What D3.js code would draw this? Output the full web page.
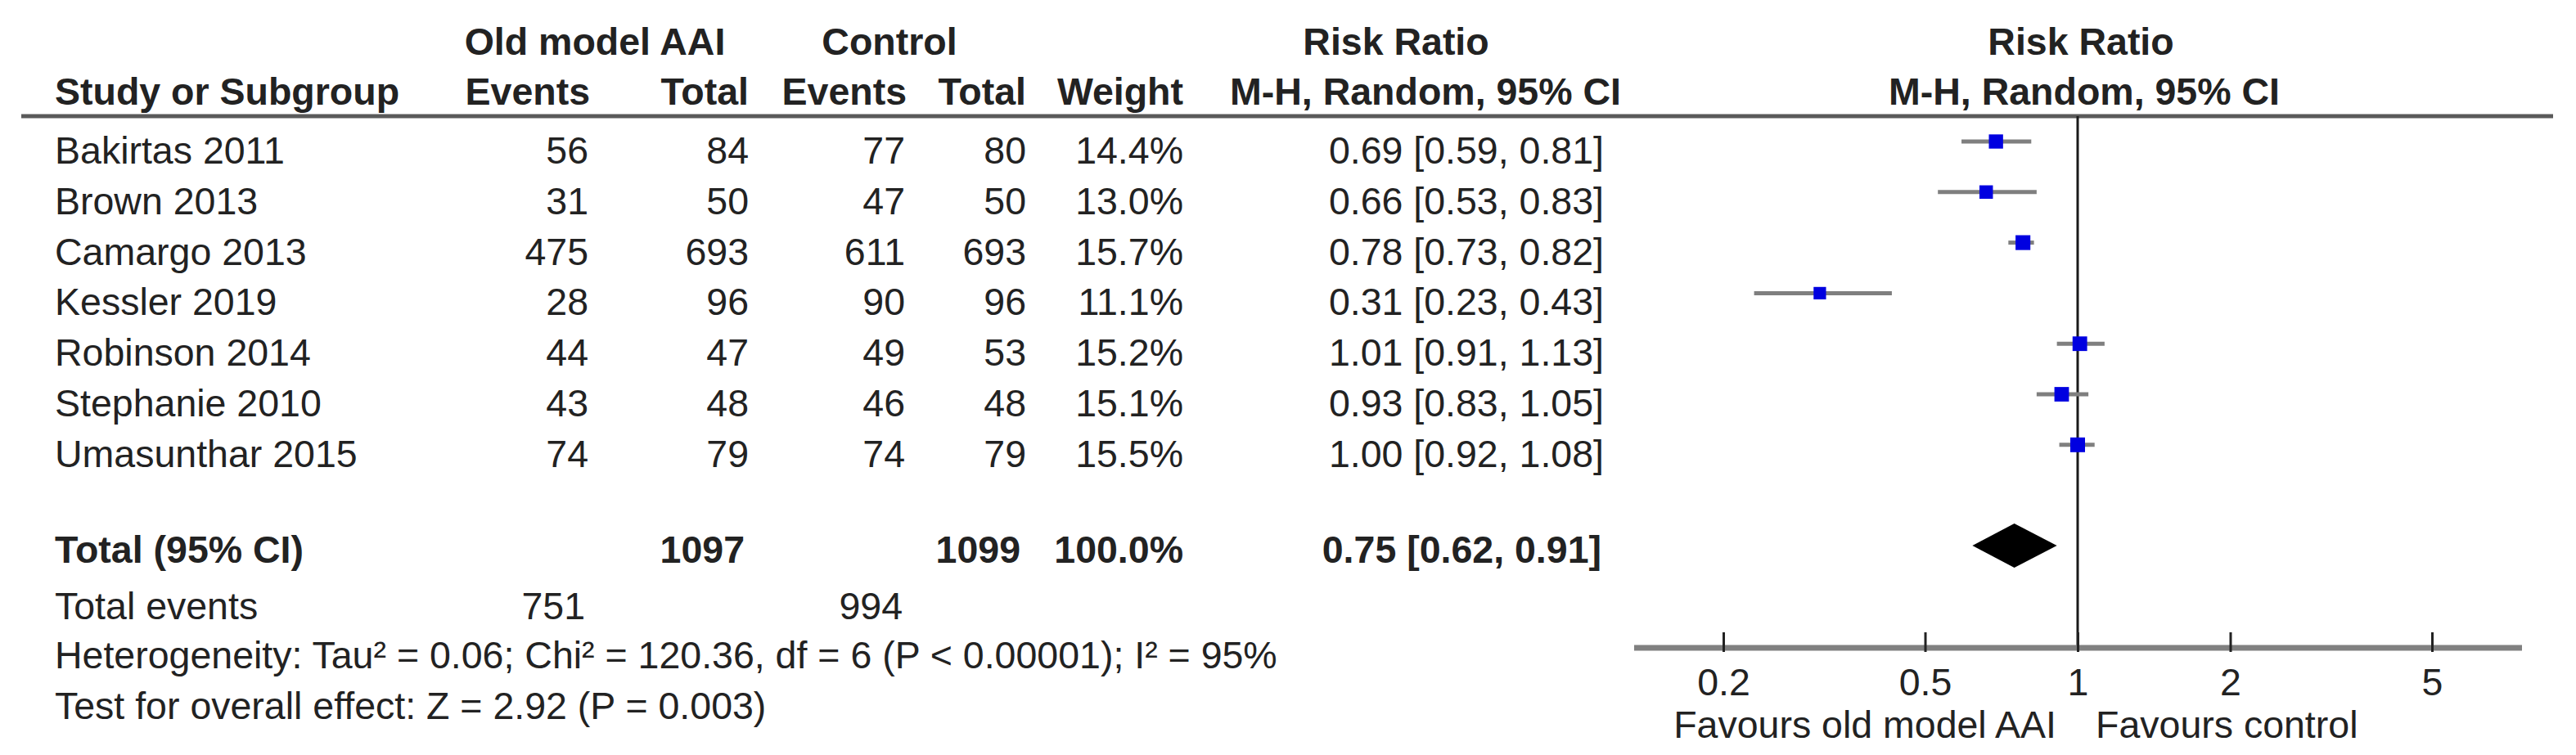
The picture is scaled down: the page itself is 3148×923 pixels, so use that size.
<!DOCTYPE html>
<html>
<head>
<meta charset="utf-8">
<script src="https://cdn.jsdelivr.net/npm/d3@7"></script>
<style>
  body { margin: 0; background: #fff; }
  svg text { font-family: 'Liberation Sans', Arial, sans-serif; fill: #222; }
  .bold { font-weight: bold; }
</style>
</head>
<body>
<svg id="chart" width="3148" height="923"></svg>
<script>
// study rows
const studies = ['Bakirtas 2011', 'Brown 2013', 'Camargo 2013', 'Kessler 2019',
  'Robinson 2014', 'Stephanie 2010', 'Umasunthar 2015'];
const expEvents = [56, 31, 475, 28, 44, 43, 74];
const expTotal = [84, 50, 693, 96, 47, 48, 79];
const ctrlEvents = [77, 47, 611, 90, 49, 46, 74];
const ctrlTotal = [80, 50, 693, 96, 53, 48, 79];
const weights = [14.4, 13.0, 15.7, 11.1, 15.2, 15.1, 15.5];
const riskRatio = [0.69, 0.66, 0.78, 0.31, 1.01, 0.93, 1.00];
const ciLow = [0.59, 0.53, 0.73, 0.23, 0.91, 0.83, 0.92];
const ciHigh = [0.81, 0.83, 0.82, 0.43, 1.13, 1.05, 1.08];

// pooled estimate
const pooledRR = 0.75;
const pooledLow = 0.62;
const pooledHigh = 0.91;

const axisTicks = [0.2, 0.5, 1, 2, 5];
const heterogeneityText = 'Heterogeneity: Tau\u00b2 = 0.06; Chi\u00b2 = 120.36, df = 6 (P < 0.00001); I\u00b2 = 95%';
const overallText = 'Test for overall effect: Z = 2.92 (P = 0.003)';
const favoursLeft = 'Favours old model AAI';
const favoursRight = 'Favours control';

const fmt2 = d3.format('.2f');
const ciLabel = (rr, lo, hi) => `${fmt2(rr)} [${fmt2(lo)}, ${fmt2(hi)}]`;

/**
 * Draws a RevMan style forest plot into an svg.
 */
class ForestPlot {
  constructor(svg) {
    this.svg = svg;
    this.fontSize = 46.5;

    // column anchors (text right edges)
    this.col = {
      study: 67,
      expEvents: 719,
      expTotal: 915,
      ctrlEvents: 1106,
      ctrlTotal: 1254,
      weight: 1446,
      ci: 1960
    };

    this.x = d3.scaleLog().domain([0.2, 5]).range([2106, 2972]);
    this.y = d3.scaleLinear().domain([0, studies.length - 1])
      .range([173, 173 + 6 * 61.8]);
    this.boxSize = d3.scaleSqrt().domain([0, 15.5]).range([0, 18]);

    this.headerLineY = 142;
    this.axisY = 792;
    this.totalY = 667;
  }

  text(x, y, str, anchor, bold) {
    return this.svg.append('text')
      .attr('x', x).attr('y', y)
      .attr('text-anchor', anchor || 'start')
      .attr('class', bold ? 'bold' : null)
      .style('font-size', this.fontSize + 'px')
      .text(str);
  }

  drawHeader() {
    const c = this.col;
    this.text(727, 67, 'Old model AAI', 'middle', true);
    this.text(1087, 67, 'Control', 'middle', true);
    this.text(1706, 67, 'Risk Ratio', 'middle', true);
    this.text(2543, 67, 'Risk Ratio', 'middle', true);

    this.text(c.study, 128, 'Study or Subgroup', 'start', true);
    this.text(c.expEvents + 2, 128, 'Events', 'end', true);
    this.text(c.expTotal, 128, 'Total', 'end', true);
    this.text(c.ctrlEvents + 2, 128, 'Events', 'end', true);
    this.text(c.ctrlTotal, 128, 'Total', 'end', true);
    this.text(c.weight, 128, 'Weight', 'end', true);
    this.text(1981, 128, 'M-H, Random, 95% CI', 'end', true);
    this.text(2547, 128, 'M-H, Random, 95% CI', 'middle', true);

    this.svg.append('line')
      .attr('x1', 26).attr('x2', 3120)
      .attr('y1', this.headerLineY).attr('y2', this.headerLineY)
      .attr('stroke', '#5a5a5a').attr('stroke-width', 5);
  }

  drawRows() {
    const c = this.col;
    studies.forEach((name, i) => {
      const yb = this.y(i) + 27;
      this.text(c.study, yb, name);
      this.text(c.expEvents, yb, expEvents[i], 'end');
      this.text(c.expTotal, yb, expTotal[i], 'end');
      this.text(c.ctrlEvents, yb, ctrlEvents[i], 'end');
      this.text(c.ctrlTotal, yb, ctrlTotal[i], 'end');
      this.text(c.weight, yb, d3.format('.1f')(weights[i]) + '%', 'end');
      this.text(c.ci, yb, ciLabel(riskRatio[i], ciLow[i], ciHigh[i]), 'end');
    });

    const yt = this.totalY + 21;
    this.text(c.study, yt, 'Total (95% CI)', 'start', true);
    this.text(c.expTotal - 5, yt, d3.sum(expTotal), 'end', true);
    this.text(c.ctrlTotal - 7, yt, d3.sum(ctrlTotal), 'end', true);
    this.text(c.weight, yt, '100.0%', 'end', true);
    this.text(c.ci - 3, yt, ciLabel(pooledRR, pooledLow, pooledHigh), 'end', true);

    this.text(c.study, 757, 'Total events');
    this.text(c.expEvents - 4, 757, d3.sum(expEvents), 'end');
    this.text(c.ctrlEvents - 3, 757, d3.sum(ctrlEvents), 'end');
    this.text(c.study, 817, heterogeneityText);
    this.text(c.study, 879, overallText);
  }

  drawPlot() {
    const x = this.x;
    const g = this.svg.append('g');

    // line of no effect
    g.append('line')
      .attr('x1', x(1)).attr('x2', x(1))
      .attr('y1', this.headerLineY).attr('y2', this.axisY)
      .attr('stroke', '#1a1a1a').attr('stroke-width', 3);

    // confidence intervals
    g.selectAll('line.ci')
      .data(studies)
      .join('line')
      .attr('class', 'ci')
      .attr('x1', (d, i) => x(ciLow[i]))
      .attr('x2', (d, i) => x(ciHigh[i]))
      .attr('y1', (d, i) => this.y(i))
      .attr('y2', (d, i) => this.y(i))
      .attr('stroke', '#7f7f7f')
      .attr('stroke-width', 5);

    // weighted boxes
    g.selectAll('rect.box')
      .data(studies)
      .join('rect')
      .attr('class', 'box')
      .attr('x', (d, i) => x(riskRatio[i]) - this.boxSize(weights[i]) / 2)
      .attr('y', (d, i) => this.y(i) - this.boxSize(weights[i]) / 2)
      .attr('width', (d, i) => this.boxSize(weights[i]))
      .attr('height', (d, i) => this.boxSize(weights[i]))
      .attr('fill', '#0000e0');

    // pooled diamond
    const ty = this.totalY;
    g.append('path')
      .attr('d', `M${x(pooledLow)},${ty} L${x(pooledRR)},${ty - 27} L${x(pooledHigh)},${ty} L${x(pooledRR)},${ty + 27} Z`)
      .attr('fill', '#000');

    // axis
    const axis = d3.axisBottom(x)
      .tickValues(axisTicks)
      .tickFormat(d => String(d))
      .tickSize(0)
      .tickPadding(0);
    const ag = g.append('g')
      .attr('transform', `translate(0,${this.axisY})`)
      .call(axis);
    ag.select('.domain').remove();
    ag.insert('line', ':first-child')
      .attr('x1', 1997).attr('x2', 3082)
      .attr('stroke', '#808080').attr('stroke-width', 7);
    ag.selectAll('.tick line')
      .attr('y1', -19).attr('y2', 5)
      .attr('stroke', '#222').attr('stroke-width', 3);
    ag.selectAll('.tick text')
      .attr('y', 58).attr('dy', null)
      .style('font-size', this.fontSize + 'px')
      .style('font-family', "'Liberation Sans', Arial, sans-serif")
      .attr('fill', '#222');

    this.text(x(1) - 26, 902, favoursLeft, 'end');
    this.text(x(1) + 22, 902, favoursRight, 'start');
  }

  render() {
    this.drawHeader();
    this.drawRows();
    this.drawPlot();
  }
}

new ForestPlot(d3.select('#chart')).render();
</script>
</body>
</html>
